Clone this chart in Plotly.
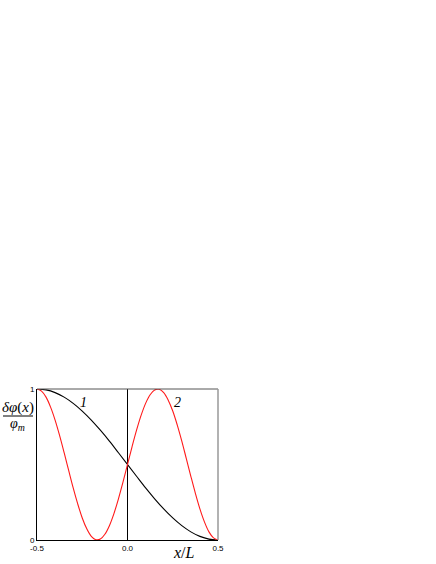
import plotly.graph_objects as go

# curve 1 (black)
x1 = [-0.5, -0.45, -0.4, -0.35, -0.3, -0.25, -0.2, -0.15, -0.1, -0.05, 0.0,
      0.05, 0.1, 0.15, 0.2, 0.25, 0.3, 0.35, 0.4, 0.45, 0.5]
y1 = [1.0, 0.994, 0.976, 0.946, 0.905, 0.854, 0.794, 0.727, 0.655, 0.578, 0.5,
      0.422, 0.345, 0.273, 0.206, 0.146, 0.095, 0.054, 0.024, 0.006, 0.0]

# curve 2 (red)
x2 = [-0.5, -0.475, -0.45, -0.425, -0.4, -0.375, -0.35, -0.325, -0.3, -0.275,
      -0.25, -0.225, -0.2, -0.175, -0.15, -0.125, -0.1, -0.075, -0.05, -0.025,
      0.0, 0.025, 0.05, 0.075, 0.1, 0.125, 0.15, 0.175, 0.2, 0.225,
      0.25, 0.275, 0.3, 0.325, 0.35, 0.375, 0.4, 0.425, 0.45, 0.475, 0.5]
y2 = [1.0, 0.986, 0.946, 0.880, 0.794, 0.691, 0.578, 0.461, 0.345, 0.239,
      0.146, 0.074, 0.024, 0.002, 0.006, 0.038, 0.095, 0.175, 0.273, 0.383,
      0.5, 0.617, 0.727, 0.825, 0.905, 0.962, 0.994, 0.998, 0.976, 0.926,
      0.854, 0.761, 0.655, 0.539, 0.422, 0.309, 0.206, 0.120, 0.054, 0.014, 0.0]

xticks = [-0.5, 0.0, 0.5]
xtick_text = ["-0.5", "0.0", "0.5"]
yticks = [0, 1]
ytick_text = ["0", "1"]

# page pixel positions of the plot area
L, R, T, B = 37, 218, 389, 540
W, H = 436, 564

def px(x):
    return (x - L) / (R - L)

def py(y):
    return (B - y) / (B - T)

fig = go.Figure()
fig.add_trace(go.Scatter(x=x1, y=y1, mode="lines", line=dict(color="black", width=1.1, shape="spline"),
                         showlegend=False, hoverinfo="skip"))
fig.add_trace(go.Scatter(x=x2, y=y2, mode="lines", line=dict(color="#ff1a1a", width=1.1, shape="spline"),
                         showlegend=False, hoverinfo="skip"))

serif = "Liberation Serif, Times New Roman, serif"
sans = "Liberation Sans, Arial, sans-serif"

fig.update_layout(
    width=W, height=H,
    margin=dict(l=L, r=W - R, t=T, b=H - B, pad=0),
    paper_bgcolor="white", plot_bgcolor="white",
    xaxis=dict(range=[-0.5, 0.5], showgrid=False, zeroline=True, zerolinecolor="black", zerolinewidth=1,
               tickvals=xticks, ticktext=xtick_text, ticks="", showline=True, linecolor="black", linewidth=1,
               tickfont=dict(family=sans, size=8, color="black"), ticklabelstandoff=0),
    yaxis=dict(range=[0, 1], showgrid=False, zeroline=False,
               tickvals=yticks, ticktext=ytick_text, ticks="", showline=True, linecolor="black", linewidth=1,
               tickfont=dict(family=sans, size=8, color="black"), ticklabelstandoff=0),
    shapes=[
        dict(type="line", xref="paper", yref="paper", x0=0, x1=1, y0=1, y1=1,
             line=dict(color="#555555", width=1)),
        dict(type="line", xref="paper", yref="paper", x0=1, x1=1, y0=0, y1=1,
             line=dict(color="#999999", width=1.5)),
        dict(type="line", xref="paper", yref="paper", x0=px(3), x1=px(33), y0=py(416), y1=py(416),
             line=dict(color="black", width=1)),
    ],
    annotations=[
        dict(text="<i>δφ</i>(<i>x</i>)", xref="paper", yref="paper", x=px(18), y=py(407),
             xanchor="center", yanchor="middle", showarrow=False,
             font=dict(family=serif, size=15, color="black")),
        dict(text="<i>φ<sub>m</sub></i>", xref="paper", yref="paper", x=px(17), y=py(424),
             xanchor="center", yanchor="middle", showarrow=False,
             font=dict(family=serif, size=14, color="black")),
        dict(text="<i>x</i>/<i>L</i>", xref="paper", yref="paper", x=px(184), y=py(552),
             xanchor="center", yanchor="middle", showarrow=False,
             font=dict(family=serif, size=16, color="black")),
        dict(text="<i>1</i>", xref="paper", yref="paper", x=px(83), y=py(402),
             xanchor="center", yanchor="middle", showarrow=False,
             font=dict(family=serif, size=14, color="black")),
        dict(text="<i>2</i>", xref="paper", yref="paper", x=px(177), y=py(402),
             xanchor="center", yanchor="middle", showarrow=False,
             font=dict(family=serif, size=14, color="black")),
    ],
)

fig.write_html("out.html", config={"displayModeBar": False},
               post_script="document.body.style.margin='0';document.body.style.overflow='hidden';")
